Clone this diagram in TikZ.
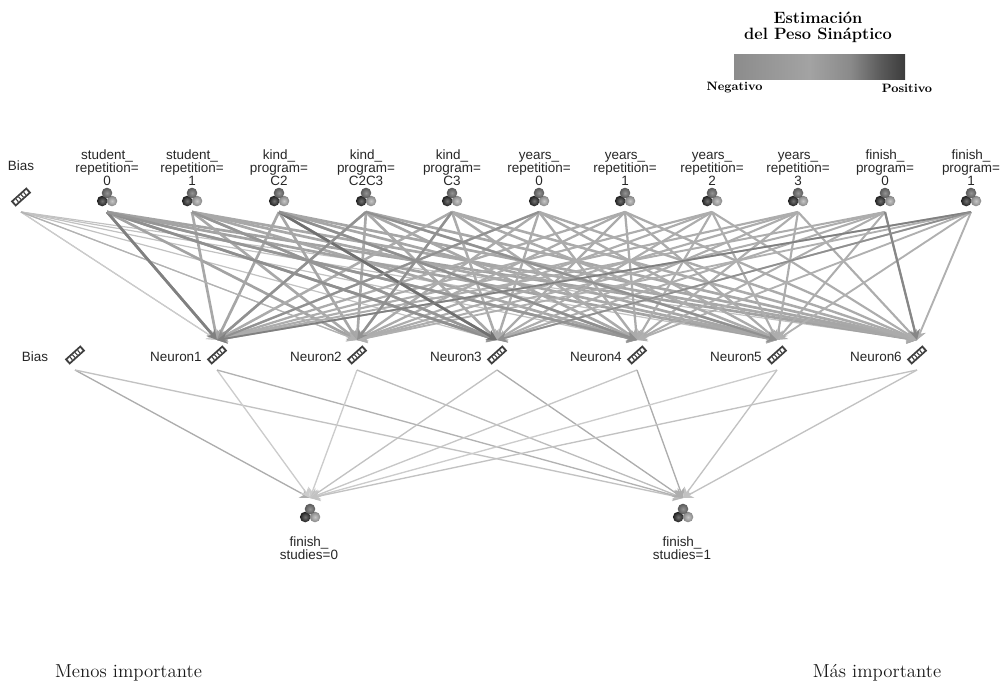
\documentclass[tikz,border=0pt]{standalone}
\usepackage{fontspec}
\setsansfont{Liberation Sans}
\usetikzlibrary{arrows.meta}
\definecolor{legA}{HTML}{8C8C8C}
\definecolor{legB}{HTML}{A3A3A3}
\definecolor{legC}{HTML}{8A8A8A}
\definecolor{legD}{HTML}{5A5A5A}
\definecolor{legE}{HTML}{3C3C3C}
\pgfdeclarehorizontalshading{legendgrad}{100bp}{
  color(0bp)=(legA); color(25bp)=(legA); color(47bp)=(legB); color(59bp)=(legC); color(68bp)=(legD); color(75bp)=(legE); color(100bp)=(legE)}
\newcommand{\rbox}[4]{(#1,#2) -- (#3,#2) -- (#3,#4) -- (#1,#4) -- cycle}
\newcommand{\rulerglyph}{%
  \begin{scope}[x={(0.557pt,0.502pt)},y={(-0.502pt,0.557pt)}]
    \fill[black!75] \rbox{-10.5}{-3.6}{10.5}{3.6};
    \fill[white] \rbox{-8.5}{-1.7}{8.5}{1.7};
    \foreach \q in {-5.1,-1.7,1.7,5.1} \fill[black!75] \rbox{\q-0.55}{-1.7}{\q+0.55}{1.7};
  \end{scope}}
\newcommand{\ballglyph}{%
  \shade[inner color=black!55,outer color=black!88] (-4.8,-4) circle (5.3);
  \shade[inner color=black!22,outer color=black!48] (5,-4) circle (5.3);
  \shade[inner color=black!42,outer color=black!65] (0,4) circle (5.3);}
\tikzset{
  x=0.75pt,y=-0.75pt,
  ballicon/.style={minimum width=24*0.75pt,minimum height=30*0.75pt,inner sep=0pt,outer sep=0pt,
    path picture={\begin{scope}[x=0.75pt,y=0.75pt]\ballglyph\end{scope}}},
  rulericon/.style={minimum width=30*0.75pt,minimum height=30*0.75pt,inner sep=0pt,outer sep=0pt,
    path picture={\rulerglyph}},
  lab/.style={font=\sffamily\fontsize{10.1}{10}\selectfont,align=center,inner sep=0pt,text=black!85},
  topname/.style={lab,anchor=south,text depth=0pt},
  hidname/.style={lab,anchor=east},
  capt/.style={font=\fontsize{14.1}{16}\selectfont,inner sep=0pt,text=black!90},
  legt/.style={font=\bfseries\fontsize{12.3}{12}\selectfont,align=center,inner sep=0pt},
  legs/.style={font=\bfseries\fontsize{9.1}{10}\selectfont,inner sep=0pt},
  conn/.style={-{Stealth[length=7.5pt,width=8pt,inset=2.5pt]}}
}
\begin{document}
\begin{tikzpicture}
\useasboundingbox (0,0) rectangle (1002,681);
% legend
\node[legt] (legtitle) at (818,27.5) {Estimación\\del Peso Sináptico};
\node[minimum width=171*0.75pt,minimum height=25*0.75pt,inner sep=0pt,shading=legendgrad] (legbar) at (819.5,67.5) {};
\node[legs] (legneg) at (734.5,88) {Negativo};
\node[legs] (legpos) at (907,88) {Positivo};
% top layer
\node[rulericon] (t0) at (21,197) {};
\foreach \i/\x in {1/107,2/192,3/279,4/366,5/452,6/539,7/625,8/712,9/798,10/885,11/971}
  \node[ballicon] (t\i) at (\x,197) {};
\node[lab] (n0) at (21,166) {Bias};
\foreach \i/\x/\t in {1/107/{student\_\\repetition=\\0},2/192/{student\_\\repetition=\\1},
  3/279/{kind\_\\program=\\C2},4/366/{kind\_\\program=\\C2C3},5/452/{kind\_\\program=\\C3},
  6/539/{years\_\\repetition=\\0},7/625/{years\_\\repetition=\\1},8/712/{years\_\\repetition=\\2},
  9/798/{years\_\\repetition=\\3},10/885/{finish\_\\program=\\0},11/971/{finish\_\\program=\\1}}
  \node[topname] (n\i) at (\x,186) {\t};
% hidden layer
\node[rulericon] (hb) at (75,355) {};
\node[lab] (hbl) at (35,357) {Bias};
\foreach \i/\x in {1/217,2/357,3/497,4/637,5/777,6/917}{
  \node[rulericon] (h\i) at (\x,355) {};
  \node[hidname] (hl\i) at (\x-15,357) {Neuron\i};
}
% output layer
\node[ballicon] (o1) at (310,513) {};
\node[ballicon] (o2) at (683,513) {};
\node[lab] (ol1) at (309,548.5) {finish\_\\studies=0};
\node[lab] (ol2) at (682,548.5) {finish\_\\studies=1};
% captions
\node[capt] (cmin) at (128.5,673) {Menos importante};
\node[capt] (cmax) at (877,673) {Más importante};
% input -> hidden, by source
\foreach \s/\w/\c in {0/0.9/black!24,1/2/black!36,2/2/black!34,3/2/black!35,4/2/black!34,5/1.9/black!33,
  6/1.8/black!33,7/1.7/black!33,8/1.6/black!32,9/1.6/black!32,10/1.5/black!32,11/1.4/black!31}
  \foreach \h in {1,...,6}
    \draw[conn,line width=\w pt,draw=\c,fill=\c] (t\s.south) -- (h\h.north);
% stronger or lighter single connections
\foreach \s/\h/\w/\c in {0/1/0.8/black!20,0/2/0.9/black!30,
  1/1/2/black!50,1/3/2/black!44,1/4/1.9/black!41,2/3/1.9/black!41,
  3/3/2/black!56,3/4/1.8/black!44,4/1/1.7/black!43,4/5/1.6/black!43,
  5/2/1.7/black!43,6/1/1.5/black!43,10/6/1.7/black!47,11/1/1.3/black!50,11/3/1.2/black!44}
  \draw[conn,line width=\w pt,draw=\c,fill=\c] (t\s.south) -- (h\h.north);
% hidden -> output
\foreach \s/\a/\b in {b/black!32/black!24,1/black!20/black!30,2/black!20/black!26,3/black!24/black!32,
  4/black!22/black!32,5/black!20/black!24,6/black!24/black!24}{
  \draw[conn,line width=1pt,draw=\a,fill=\a] (h\s.south) -- (o1.north);
  \draw[conn,line width=1pt,draw=\b,fill=\b] (h\s.south) -- (o2.north);
}
\end{tikzpicture}
\end{document}
